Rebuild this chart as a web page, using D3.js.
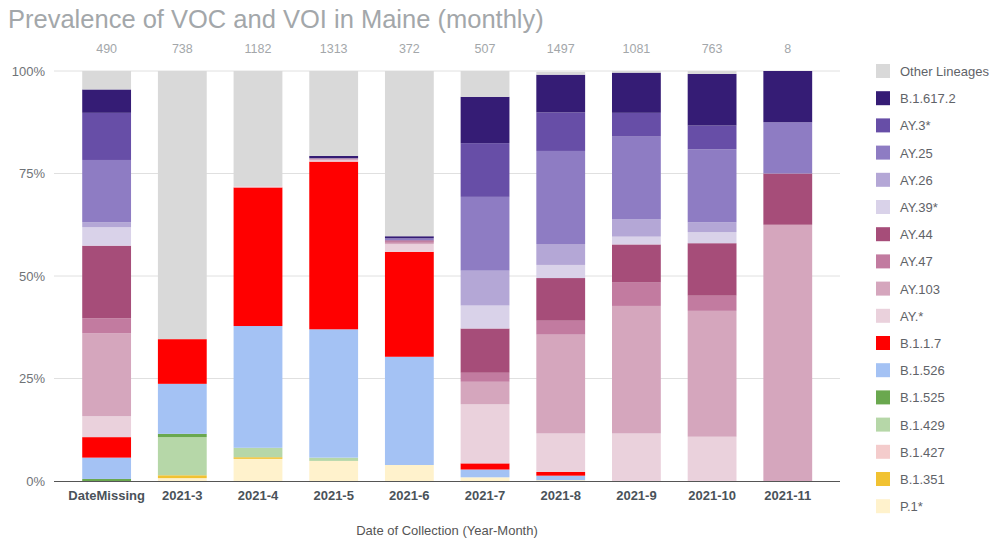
<!DOCTYPE html>
<html>
<head>
<meta charset="utf-8">
<script src="https://cdn.jsdelivr.net/npm/d3@7"></script>
<style>
  body { margin: 0; background: #fff; }
  svg { font-family: Arial, "Liberation Sans", sans-serif; }
</style>
</head>
<body>
<svg id="chart" width="1007" height="541"></svg>
<script>
const categories = ["DateMissing","2021-3","2021-4","2021-5","2021-6","2021-7","2021-8","2021-9","2021-10","2021-11"];
const sampleCounts = [490, 738, 1182, 1313, 372, 507, 1497, 1081, 763, 8];
const yTicks = [0, 25, 50, 75, 100];

// stacking order bottom -> top
const lineages = ["P.1*","B.1.351","B.1.427","B.1.429","B.1.525","B.1.526","B.1.1.7","AY.*","AY.103","AY.47","AY.44","AY.39*","AY.26","AY.25","AY.3*","B.1.617.2","Other Lineages"];
const colors = ["#fff2cc","#f1c232","#f4cccc","#b6d7a8","#6aa84f","#a4c2f4","#ff0000","#ead1dc","#d5a6bd","#c27ba0","#a64d79","#d9d2e9","#b4a7d6","#8e7cc3","#674ea7","#351c75","#d9d9d9"];

// percentages per lineage, one value per category (same order as categories)
const P1      = [0,   0.7, 5.4, 4.9, 3.9, 0.9, 0.2, 0,    0,    0];
const B1351   = [0,   0.7, 0.4, 0,   0,   0,   0,   0,    0,    0];
const B1427   = [0,   0,   0,   0,   0,   0,   0,   0,    0,    0];
const B1429   = [0,   9.3, 2.3, 0.8, 0,   0,   0,   0,    0,    0];
const B1525   = [0.5, 0.8, 0,   0,   0,   0,   0,   0,    0,    0];
const B1526   = [5.2, 12.2,29.7,31.3,26.4,1.9, 1.1, 0,    0,    0];
const B117    = [5.0, 10.9,33.8,40.9,25.6,1.5, 0.9, 0,    0,    0];
const AYstar  = [5.1, 0,   0.3, 0.3, 1.9, 14.4,9.4, 11.6, 10.8, 0];
const AY103   = [20.2,0,   0,   0.5, 0.3, 5.5, 24.1,31.1, 30.7, 62.5];
const AY47    = [3.7, 0,   0,   0,   0.3, 2.2, 3.4, 5.7,  3.7,  0];
const AY44    = [17.7,0,   0,   0,   0.3, 10.8,10.4,9.3,  12.8, 12.5];
const AY39    = [4.5, 0,   0,   0,   0,   5.6, 3.2, 1.9,  2.7,  0];
const AY26    = [1.2, 0,   0,   0,   0,   8.5, 5.1, 4.2,  2.4,  0];
const AY25    = [15.2,0,   0,   0,   0.5, 18.0,22.7,20.2, 17.8, 12.5];
const AY3     = [11.5,0,   0,   0,   0,   13.1,9.4, 5.8,  5.8,  0];
const B16172  = [5.7, 0,   0,   0.6, 0.5, 11.3,9.2, 9.8,  12.6, 12.5];
const Other   = [4.5, 65.4,28.1,20.7,40.3,6.3, 0.7, 0.4,  0.7,  0];

const seriesValues = [P1,B1351,B1427,B1429,B1525,B1526,B117,AYstar,AY103,AY47,AY44,AY39,AY26,AY25,AY3,B16172,Other];

const rows = categories.map((c, i) => {
  const r = { cat: c };
  lineages.forEach((l, j) => { r[l] = seriesValues[j][i]; });
  return r;
});

const svg = d3.select("#chart");
const plot = { left: 54, right: 840, top: 71, bottom: 481 };

const x = d3.scaleBand().domain(categories).range([68.6, 825.8]).paddingInner(0.355).paddingOuter(0.18);
const y = d3.scaleLinear().domain([0, 100]).range([plot.bottom, plot.top]);

// title
svg.append("text").attr("x", 8).attr("y", 28)
  .attr("font-size", 25.5).attr("fill", "#a3a7aa").text("Prevalence of VOC and VOI in Maine (monthly)");

// gridlines
svg.append("g").selectAll("line").data(yTicks.filter(d => d > 0)).join("line")
  .attr("x1", plot.left).attr("x2", plot.right)
  .attr("y1", d => y(d)).attr("y2", d => y(d))
  .attr("stroke", "#e0e0e0").attr("stroke-width", 1);

// y axis labels
const yAxis = d3.axisLeft(y).tickValues(yTicks).tickFormat(d => d + "%").tickSize(0).tickPadding(9);
const gy = svg.append("g").attr("transform", `translate(${plot.left},0)`).call(yAxis);
gy.select(".domain").remove();
gy.selectAll("text").attr("font-size", 13).attr("fill", "#6f7377").attr("font-family", "Arial, 'Liberation Sans', sans-serif");

// stacked bars
const stack = d3.stack().keys(lineages);
const stacked = stack(rows);
svg.append("g").selectAll("g").data(stacked).join("g")
  .attr("fill", (d, i) => colors[i])
  .selectAll("rect").data(d => d).join("rect")
  .attr("x", d => x(d.data.cat))
  .attr("width", x.bandwidth())
  .attr("y", d => y(d[1]))
  .attr("height", d => Math.max(0, y(d[0]) - y(d[1])));

// baseline
svg.append("line").attr("x1", plot.left).attr("x2", plot.right)
  .attr("y1", y(0) + 0.5).attr("y2", y(0) + 0.5).attr("stroke", "#555").attr("stroke-width", 1.2);

// x axis labels
const xAxis = d3.axisBottom(x).tickSize(0).tickPadding(10);
const gx = svg.append("g").attr("transform", `translate(0,${plot.bottom})`).call(xAxis);
gx.select(".domain").remove();
gx.selectAll("text").attr("font-size", 13).attr("font-weight", "bold").attr("fill", "#4a5259")
  .attr("font-family", "Arial, 'Liberation Sans', sans-serif");

// sample counts on top
svg.append("g").selectAll("text").data(categories).join("text")
  .attr("x", d => x(d) + x.bandwidth() / 2).attr("y", 53)
  .attr("text-anchor", "middle").attr("font-size", 12.5).attr("fill", "#a3a7aa")
  .text((d, i) => sampleCounts[i]);

// x axis title
svg.append("text").attr("x", 447).attr("y", 535).attr("text-anchor", "middle")
  .attr("font-size", 13).attr("fill", "#555").text("Date of Collection (Year-Month)");

// legend (top -> bottom reversed)
const legendItems = lineages.map((l, i) => ({ name: l, color: colors[i] })).reverse();
const lg = svg.append("g").selectAll("g").data(legendItems).join("g")
  .attr("transform", (d, i) => `translate(876,${64 + i * 27.2})`);
lg.append("rect").attr("width", 14).attr("height", 14).attr("fill", d => d.color);
lg.append("text").attr("x", 24).attr("y", 12).attr("font-size", 13).attr("fill", "#5f6368").text(d => d.name);
</script>
</body>
</html>
